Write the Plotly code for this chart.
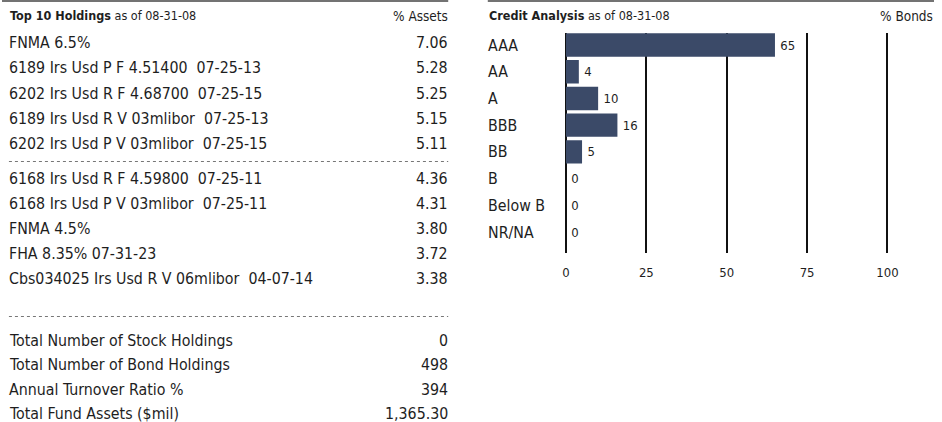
import plotly.graph_objects as go

# ---------------- data ----------------
holding_names = [
    "FNMA 6.5%",
    "6189 Irs Usd P F 4.51400  07-25-13",
    "6202 Irs Usd R F 4.68700  07-25-15",
    "6189 Irs Usd R V 03mlibor  07-25-13",
    "6202 Irs Usd P V 03mlibor  07-25-15",
    "6168 Irs Usd R F 4.59800  07-25-11",
    "6168 Irs Usd P V 03mlibor  07-25-11",
    "FNMA 4.5%",
    "FHA 8.35% 07-31-23",
    "Cbs034025 Irs Usd R V 06mlibor  04-07-14",
]
holding_pct = ["7.06", "5.28", "5.25", "5.15", "5.11", "4.36", "4.31", "3.80", "3.72", "3.38"]

total_labels = [
    "Total Number of Stock Holdings",
    "Total Number of Bond Holdings",
    "Annual Turnover Ratio %",
    "Total Fund Assets ($mil)",
]
total_values = ["0", "498", "394", "1,365.30"]

credit_cats = ["AAA", "AA", "A", "BBB", "BB", "B", "Below B", "NR/NA"]
credit_vals = [65, 4, 10, 16, 5, 0, 0, 0]
x_ticks = [0, 25, 50, 75, 100]

# ---------------- style ----------------
W, H = 942, 422
FONT = "Liberation Sans Narrow, DejaVu Sans Condensed, Arial Narrow, sans-serif"
TXT = "#1e1e1e"
BAR = "#3b4a68"
ROWF = 15.8
TITLEF = 12.5
UNITF = 13.5


def px(x):
    return x / W


def py(y):
    return 1 - y / H


def fix(s):
    return s.replace("  ", " \u00a0")


def label(x, y, text, size, anchor="left", yref="paper"):
    return dict(x=x, y=y, xref="paper", yref=yref, xanchor=anchor, yanchor="middle",
                align=anchor, text=text, showarrow=False, borderpad=0,
                font=dict(family=FONT, size=size, color=TXT))


fig = go.Figure()

fig.add_trace(go.Bar(
    x=credit_vals, y=credit_cats, orientation="h",
    marker=dict(color=BAR, line=dict(width=0)),
    text=["\u2009" + str(v) for v in credit_vals], textposition="outside",
    textfont=dict(family=FONT, size=13, color=TXT),
    cliponaxis=False, hoverinfo="skip",
))

ann = []
# Left panel title
ann.append(label(px(7), py(16), "<b>Top 10 Holdings</b> as of 08-31-08", TITLEF, "left"))
ann.append(label(px(452), py(16), "% Assets", UNITF, "right"))

row_y = [42.5, 67.8, 93.1, 118.4, 143.7, 178.3, 203.4, 228.5, 253.6, 278.7]
for name, val, yy in zip(holding_names, holding_pct, row_y):
    ann.append(label(px(6), py(yy), fix(name), ROWF, "left"))
    ann.append(label(px(452), py(yy), val, ROWF, "right"))

tot_y = [340, 364.6, 389.2, 413.5]
for lab, val, yy in zip(total_labels, total_values, tot_y):
    ann.append(label(px(6), py(yy), lab, ROWF, "left"))
    ann.append(label(px(452), py(yy), val, ROWF, "right"))

# Right panel title
ann.append(label(px(491), py(16), "<b>Credit Analysis</b> as of 08-31-08", TITLEF, "left"))
ann.append(label(1.0, py(16), "% Bonds", UNITF, "right"))

# Category labels (left aligned)
for c in credit_cats:
    ann.append(label(px(490), c, c, ROWF, "left", yref="y"))

shapes = [
    dict(type="line", xref="paper", yref="paper", x0=0, x1=px(451), y0=py(1), y1=py(1),
         line=dict(color="#444", width=1.5)),
    dict(type="line", xref="paper", yref="paper", x0=px(491), x1=1, y0=py(1), y1=py(1),
         line=dict(color="#444", width=1.5)),
    dict(type="line", xref="paper", yref="paper", x0=px(7), x1=px(451), y0=py(161.5), y1=py(161.5),
         line=dict(color="#777", width=1, dash="dot")),
    dict(type="line", xref="paper", yref="paper", x0=px(7), x1=px(451), y0=py(316.5), y1=py(316.5),
         line=dict(color="#777", width=1, dash="dot")),
]

fig.update_layout(
    width=W, height=H, margin=dict(l=0, r=0, t=0, b=0),
    paper_bgcolor="white", plot_bgcolor="white",
    showlegend=False, bargap=0.125,
    annotations=ann, shapes=shapes,
    font=dict(family=FONT, color=TXT),
    xaxis=dict(domain=[px(568.4), px(898.25)], range=[-0.5, 101], tickvals=x_ticks,
               showgrid=True, gridcolor="#111", gridwidth=1.5,
               zeroline=True, zerolinecolor="#111", zerolinewidth=1.5,
               showline=False, ticks="", tickfont=dict(family=FONT, size=13, color=TXT),
               ticklabelstandoff=10, fixedrange=True),
    yaxis=dict(domain=[py(253.4), py(33)], type="category",
               categoryorder="array", categoryarray=credit_cats,
               range=[7.8, -0.45], showticklabels=False, showgrid=False,
               zeroline=False, showline=False, ticks="", fixedrange=True),
)

fig.write_html("out.html",
               post_script="document.documentElement.style.overflow='hidden';"
                           "document.body.style.margin='0';document.body.style.overflow='hidden';",
               config={"displayModeBar": False})
